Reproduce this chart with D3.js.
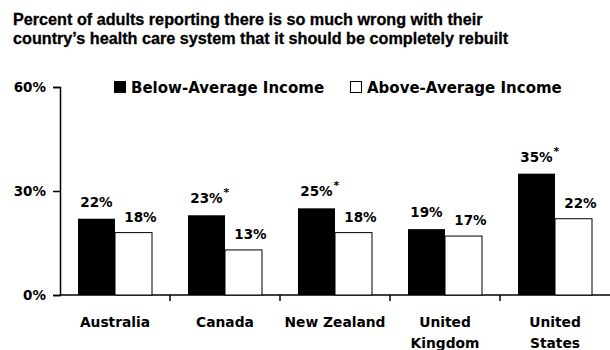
<!DOCTYPE html>
<html>
<head>
<meta charset="utf-8">
<script src="https://cdn.jsdelivr.net/npm/d3@7"></script>
<style>
  html, body { margin: 0; padding: 0; background: #fff; }
  svg text { font-family: "DejaVu Sans", sans-serif; font-weight: bold; fill: #000; }
  svg text.title { font-family: "Liberation Sans", Arial, sans-serif; }
</style>
</head>
<body>
<svg id="chart" width="610" height="350"></svg>
<script>
// Survey data: share of adults saying the system should be completely rebuilt
const countries = [["Australia"], ["Canada"], ["New Zealand"], ["United", "Kingdom"], ["United", "States"]];
const seriesNames = ["Below-Average Income", "Above-Average Income"];
const belowAvg = [22, 23, 25, 19, 35];
const aboveAvg = [18, 13, 18, 17, 22];
const significant = [false, true, true, false, true];
const yTicks = [0, 30, 60];
const titleLines = [
  "Percent of adults reporting there is so much wrong with their",
  "country\u2019s health care system that it should be completely rebuilt"
];

const svg = d3.select("#chart");
const margin = { left: 60, right: 0, top: 87, bottom: 55 };
const W = 610, H = 350;

const keys = countries.map(c => c.join(" "));
const x = d3.scaleBand().domain(keys).range([margin.left, W - margin.right]);
const y = d3.scaleLinear().domain([0, 60]).range([H - margin.bottom, margin.top]);
const inner = d3.scaleBand().domain([0, 1]).range([18, x.bandwidth() - 18]);

// Title
svg.append("g").selectAll("text").data(titleLines).join("text")
  .attr("class", "title")
  .attr("x", 13).attr("y", (d, i) => 25 + i * 19)
  .style("font-size", "16.2px")
  .attr("stroke", "#000").attr("stroke-width", 0.3)
  .text(d => d);

// Y axis
const yAxis = svg.append("g").attr("transform", `translate(${margin.left},0)`)
  .call(d3.axisLeft(y).tickValues(yTicks).tickFormat(d => d + "%").tickSize(7).tickPadding(7));
yAxis.select(".domain").attr("stroke", "#000").attr("stroke-width", 1.5);
yAxis.selectAll(".tick line").attr("stroke", "#000").attr("stroke-width", 1.5);
yAxis.selectAll(".tick text").style("font-size", "13.5px").attr("font-family", null);

// X axis: baseline with separators between categories
const base = svg.append("g");
base.append("line")
  .attr("x1", margin.left).attr("x2", W)
  .attr("y1", y(0)).attr("y2", y(0))
  .attr("stroke", "#000").attr("stroke-width", 1.5);
base.selectAll("line.sep").data(keys.slice(1)).join("line")
  .attr("class", "sep")
  .attr("x1", d => x(d)).attr("x2", d => x(d))
  .attr("y1", y(0)).attr("y2", y(0) + 6)
  .attr("stroke", "#000").attr("stroke-width", 1.5);

// Category labels
const cat = svg.append("g").selectAll("text").data(countries).join("text")
  .attr("text-anchor", "middle")
  .style("font-size", "13.8px")
  .attr("x", (d, i) => x(keys[i]) + x.bandwidth() / 2)
  .attr("y", 327);
cat.selectAll("tspan").data(d => d).join("tspan")
  .attr("x", function () { return this.parentNode.getAttribute("x"); })
  .attr("dy", (d, i) => i === 0 ? 0 : 21)
  .text(d => d);

// Bars
const groups = svg.append("g").selectAll("g").data(keys).join("g")
  .attr("transform", d => `translate(${x(d)},0)`);

groups.append("rect")
  .attr("x", inner(0)).attr("width", inner.bandwidth())
  .attr("y", (d, i) => y(belowAvg[i])).attr("height", (d, i) => y(0) - y(belowAvg[i]))
  .attr("fill", "#000");

groups.append("rect")
  .attr("x", inner(1)).attr("width", inner.bandwidth())
  .attr("y", (d, i) => y(aboveAvg[i])).attr("height", (d, i) => y(0) - y(aboveAvg[i]))
  .attr("fill", "#fff").attr("stroke", "#000").attr("stroke-width", 1);

// Value labels
groups.each(function (d, i) {
  const g = d3.select(this);
  const t = g.append("text")
    .attr("x", inner(0) + inner.bandwidth() / 2)
    .attr("y", y(belowAvg[i]) - 12)
    .attr("text-anchor", "middle")
    .style("font-size", "13.5px")
    .text(belowAvg[i] + "%");
  if (significant[i]) {
    const bb = t.node().getBBox();
    g.append("text")
      .attr("x", bb.x + bb.width + 0.5)
      .attr("y", y(belowAvg[i]) - 19)
      .style("font-size", "11px")
      .text("*");
  }
  g.append("text")
    .attr("x", inner(1) + inner.bandwidth() / 2 + 7)
    .attr("y", y(aboveAvg[i]) - 11)
    .attr("text-anchor", "middle")
    .style("font-size", "13.5px")
    .text(aboveAvg[i] + "%");
});

// Legend
const legend = svg.append("g");
const legendX = [114, 350];
seriesNames.forEach((name, i) => {
  legend.append("rect")
    .attr("x", legendX[i] + 0.5).attr("y", 81.5).attr("width", 11).attr("height", 11)
    .attr("fill", i === 0 ? "#000" : "#fff").attr("stroke", "#000").attr("stroke-width", 1);
  legend.append("text")
    .attr("x", legendX[i] + 17).attr("y", 93)
    .style("font-size", "15px")
    .text(name);
});
</script>
</body>
</html>
